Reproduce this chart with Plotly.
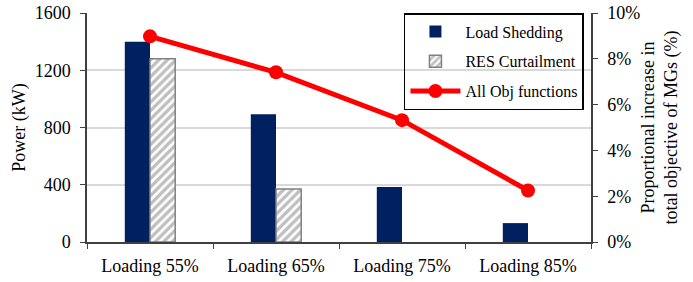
import plotly.graph_objects as go

categories = ["Loading 55%", "Loading 65%", "Loading 75%", "Loading 85%"]
load_shedding = [1400, 893, 385, 132]
res_curtailment = [1280, 370, None, None]
all_obj = [0.0898, 0.0741, 0.0532, 0.0225]

FONT = "Times New Roman, Liberation Serif, serif"
AXC = "#404040"

fig = go.Figure()
fig.add_trace(go.Bar(
    x=categories, y=load_shedding, name="Load Shedding",
    marker=dict(color="#002060", line=dict(width=0)),
    legendgroup="a",
))
fig.add_trace(go.Bar(
    x=categories, y=res_curtailment, name="RES Curtailment",
    marker=dict(color="white", line=dict(color="#808080", width=1.5),
                pattern=dict(shape="/", fgcolor="#7f7f7f", bgcolor="white",
                             size=6, solidity=0.55)),
    legendgroup="b",
))
fig.add_trace(go.Scatter(
    x=categories, y=all_obj, name="All Obj functions", yaxis="y2",
    mode="lines+markers",
    line=dict(color="#FF0000", width=5),
    marker=dict(color="#FF0000", size=14),
    legendgroup="c",
))

fig.update_layout(
    width=693, height=282,
    margin=dict(l=87, r=102, t=13, b=40),
    paper_bgcolor="white", plot_bgcolor="white",
    font=dict(family=FONT, size=18, color="black"),
    barmode="group", bargap=0.6, bargroupgap=0,
    showlegend=True,
    legend=dict(
        x=0.986, xanchor="right", y=1.0, yanchor="top",
        bgcolor="rgba(0,0,0,0)", bordercolor="black", borderwidth=1.5,
        font=dict(family=FONT, size=16), tracegroupgap=6,
        traceorder="grouped", itemwidth=50,
    ),
    xaxis=dict(
        showline=True, linecolor=AXC, linewidth=1.5, automargin=False,
        ticks="outside", tickson="boundaries", ticklen=5, tickcolor=AXC,
        tickfont=dict(family=FONT, size=18), showgrid=False,
        ticklabelstandoff=7,
    ),
    yaxis=dict(
        range=[0, 1600], dtick=400, automargin=False,
        title=dict(text="Power (kW)", font=dict(family=FONT, size=18), standoff=4),
        showline=True, linecolor=AXC, linewidth=1.5,
        ticks="outside", ticklen=5, tickcolor=AXC, ticklabelstandoff=6,
        showgrid=True, gridcolor="#D9D9D9", gridwidth=1.5,
        zeroline=False, tickfont=dict(family=FONT, size=18),
    ),
    yaxis2=dict(
        range=[0, 0.1], dtick=0.02, tickformat=".0%", overlaying="y", side="right",
        automargin=False,
        title=dict(text="Proportional increase in<br>total objective of MGs (%)",
                   font=dict(family=FONT, size=18), standoff=2),
        showline=True, linecolor=AXC, linewidth=1.5,
        ticks="outside", ticklen=5, tickcolor=AXC, ticklabelstandoff=6,
        showgrid=False, zeroline=False, tickfont=dict(family=FONT, size=18),
    ),
)

fig.write_html("out.html", config={"displayModeBar": False},
               post_script="document.body.style.margin='0px';")
